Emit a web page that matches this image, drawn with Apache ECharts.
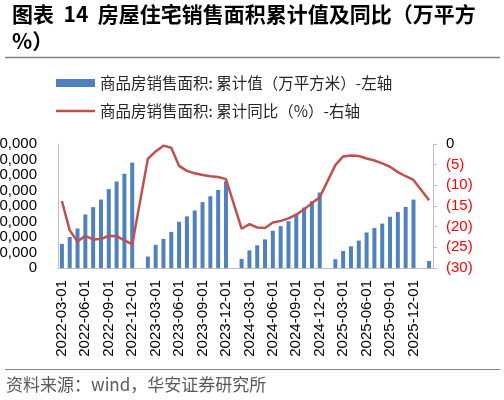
<!DOCTYPE html>
<html><head><meta charset="utf-8">
<script src="https://cdn.jsdelivr.net/npm/echarts@6/dist/echarts.min.js"></script>
<style>html,body{margin:0;padding:0;background:#fff;}#c{width:504px;height:400px;}</style>
</head><body><div id="c"></div>
<script>
// Categories: monthly, 2022-03 .. 2026-02
const months = [
  '2022-03-01','2022-04-01','2022-05-01','2022-06-01','2022-07-01','2022-08-01','2022-09-01','2022-10-01','2022-11-01','2022-12-01',
  '2023-01-01','2023-02-01','2023-03-01','2023-04-01','2023-05-01','2023-06-01','2023-07-01','2023-08-01','2023-09-01','2023-10-01','2023-11-01','2023-12-01',
  '2024-01-01','2024-02-01','2024-03-01','2024-04-01','2024-05-01','2024-06-01','2024-07-01','2024-08-01','2024-09-01','2024-10-01','2024-11-01','2024-12-01',
  '2025-01-01','2025-02-01','2025-03-01','2025-04-01','2025-05-01','2025-06-01','2025-07-01','2025-08-01','2025-09-01','2025-10-01','2025-11-01','2025-12-01',
  '2026-01-01','2026-02-01'
];
// 商品房销售面积: 累计值 (万平方米)
const salesArea = [
  31100, 40000, 51000, 69000, 78500, 88300, 101800, 111600, 121600, 136000,
  null, 14800, 29900, 37600, 46600, 59600, 66600, 74200, 85000, 92600, 100800, 112000,
  null, 11700, 22800, 29300, 36900, 48100, 54000, 60500, 69900, 78000, 86200, 97400,
  null, 11300, 22000, 28100, 35300, 45800, 51700, 57300, 66100, 72200, 78800, 88300,
  null, 9000
];
// 商品房销售面积: 累计同比 (%)
const salesYoY = [
  -13.8, -20.9, -23.6, -22.2, -23.1, -23.0, -22.2, -22.3, -23.3, -24.3,
  null, -3.6, -1.8, -0.4, -0.9, -5.3, -6.5, -7.1, -7.5, -7.8, -8.0, -8.5,
  null, -20.5, -19.4, -20.2, -20.3, -19.0, -18.6, -18.0, -17.1, -15.8, -14.3, -12.9,
  null, -5.1, -3.0, -2.8, -2.9, -3.5, -4.0, -4.7, -5.5, -6.8, -7.8, -8.7,
  null, -13.6
];
const titleText = '图表  14  房屋住宅销售面积累计值及同比（万平方\n%）';
const barName = '商品房销售面积: 累计值（万平方米）-左轴';
const lineName = '商品房销售面积: 累计同比（%）-右轴';
const sourceText = '资料来源：wind，华安证券研究所';

const cjk = '"Noto Sans CJK SC", sans-serif';
const latin = '"Liberation Sans", Arial, sans-serif';
function addCommas(v){ return String(v).replace(/\B(?=(\d{3})+(?!\d))/g, ','); }

const chart = echarts.init(document.getElementById('c'), null, {renderer:'canvas'});
chart.setOption({
  animation: false,
  backgroundColor: '#fff',
  title: {
    text: titleText, left: 12, top: 1, padding: 0,
    textStyle: {fontFamily: cjk, fontSize: 21, fontWeight: 'bold', color: '#000', lineHeight: 27}
  },
  legend: {
    orient: 'vertical', left: 56, top: 75, padding: 0, itemGap: 12,
    itemWidth: 39, itemHeight: 8,
    textStyle: {fontFamily: cjk, fontSize: 15.5, color: '#262626', lineHeight: 16},
    data: [
      {name: barName, icon: 'rect'},
      {name: lineName, icon: 'path://M0,0L100,0L100,7L0,7Z'}
    ]
  },
  graphic: [
    {type:'line', shape:{x1:5, y1:57.5, x2:500, y2:57.5}, style:{stroke:'#808080', lineWidth:1.5}},
    {type:'line', shape:{x1:5, y1:369.5, x2:500, y2:369.5}, style:{stroke:'#808080', lineWidth:1}},
    {type:'text', left: 6, top: 376, style:{text: sourceText, font: '17px "Noto Sans CJK SC", sans-serif', fill:'#595959'}}
  ],
  grid: {left: 58, right: 71, top: 144, bottom: 132, containLabel: false, outerBoundsMode: 'none'},
  xAxis: {
    type: 'category', data: months, boundaryGap: true,
    axisLine: {show: true, lineStyle: {color: '#BFBFBF', width: 1}},
    axisTick: {show: false},
    axisLabel: {
      rotate: 90, margin: 12, fontFamily: latin, fontSize: 15, color: '#000',
      interval: function(i){ return i % 3 === 0; }
    }
  },
  yAxis: [
    {
      type: 'value', min: 0, max: 160000, interval: 20000, position: 'left',
      axisLine: {show: true, lineStyle: {color: '#BFBFBF'}},
      axisTick: {show: false}, splitLine: {show: false},
      axisLabel: {margin: 21, fontFamily: latin, fontSize: 15, color: '#000',
        formatter: function(v){ return addCommas(v); }}
    },
    {
      type: 'value', min: -30, max: 0, interval: 5, position: 'right',
      axisLine: {show: true, lineStyle: {color: '#BFBFBF'}},
      axisTick: {show: true, length: 4, lineStyle: {color: '#BFBFBF'}},
      splitLine: {show: false},
      axisLabel: {margin: 13, fontFamily: latin, fontSize: 15,
        color: function(v){ return Number(v) === 0 ? '#000' : '#FF0000'; },
        formatter: function(v){ return v === 0 ? '0' : '(' + (-v) + ')'; }}
    }
  ],
  series: [
    {name: barName, type: 'bar', yAxisIndex: 0, data: salesArea, barWidth: 4,
      itemStyle: {color: '#4F81BD'}},
    {name: lineName, type: 'line', yAxisIndex: 1, data: salesYoY, connectNulls: true,
      symbol: 'none', showSymbol: false, lineStyle: {color: '#C0504D', width: 2.5},
      itemStyle: {color: '#C0504D'}}
  ]
});
</script></body></html>
